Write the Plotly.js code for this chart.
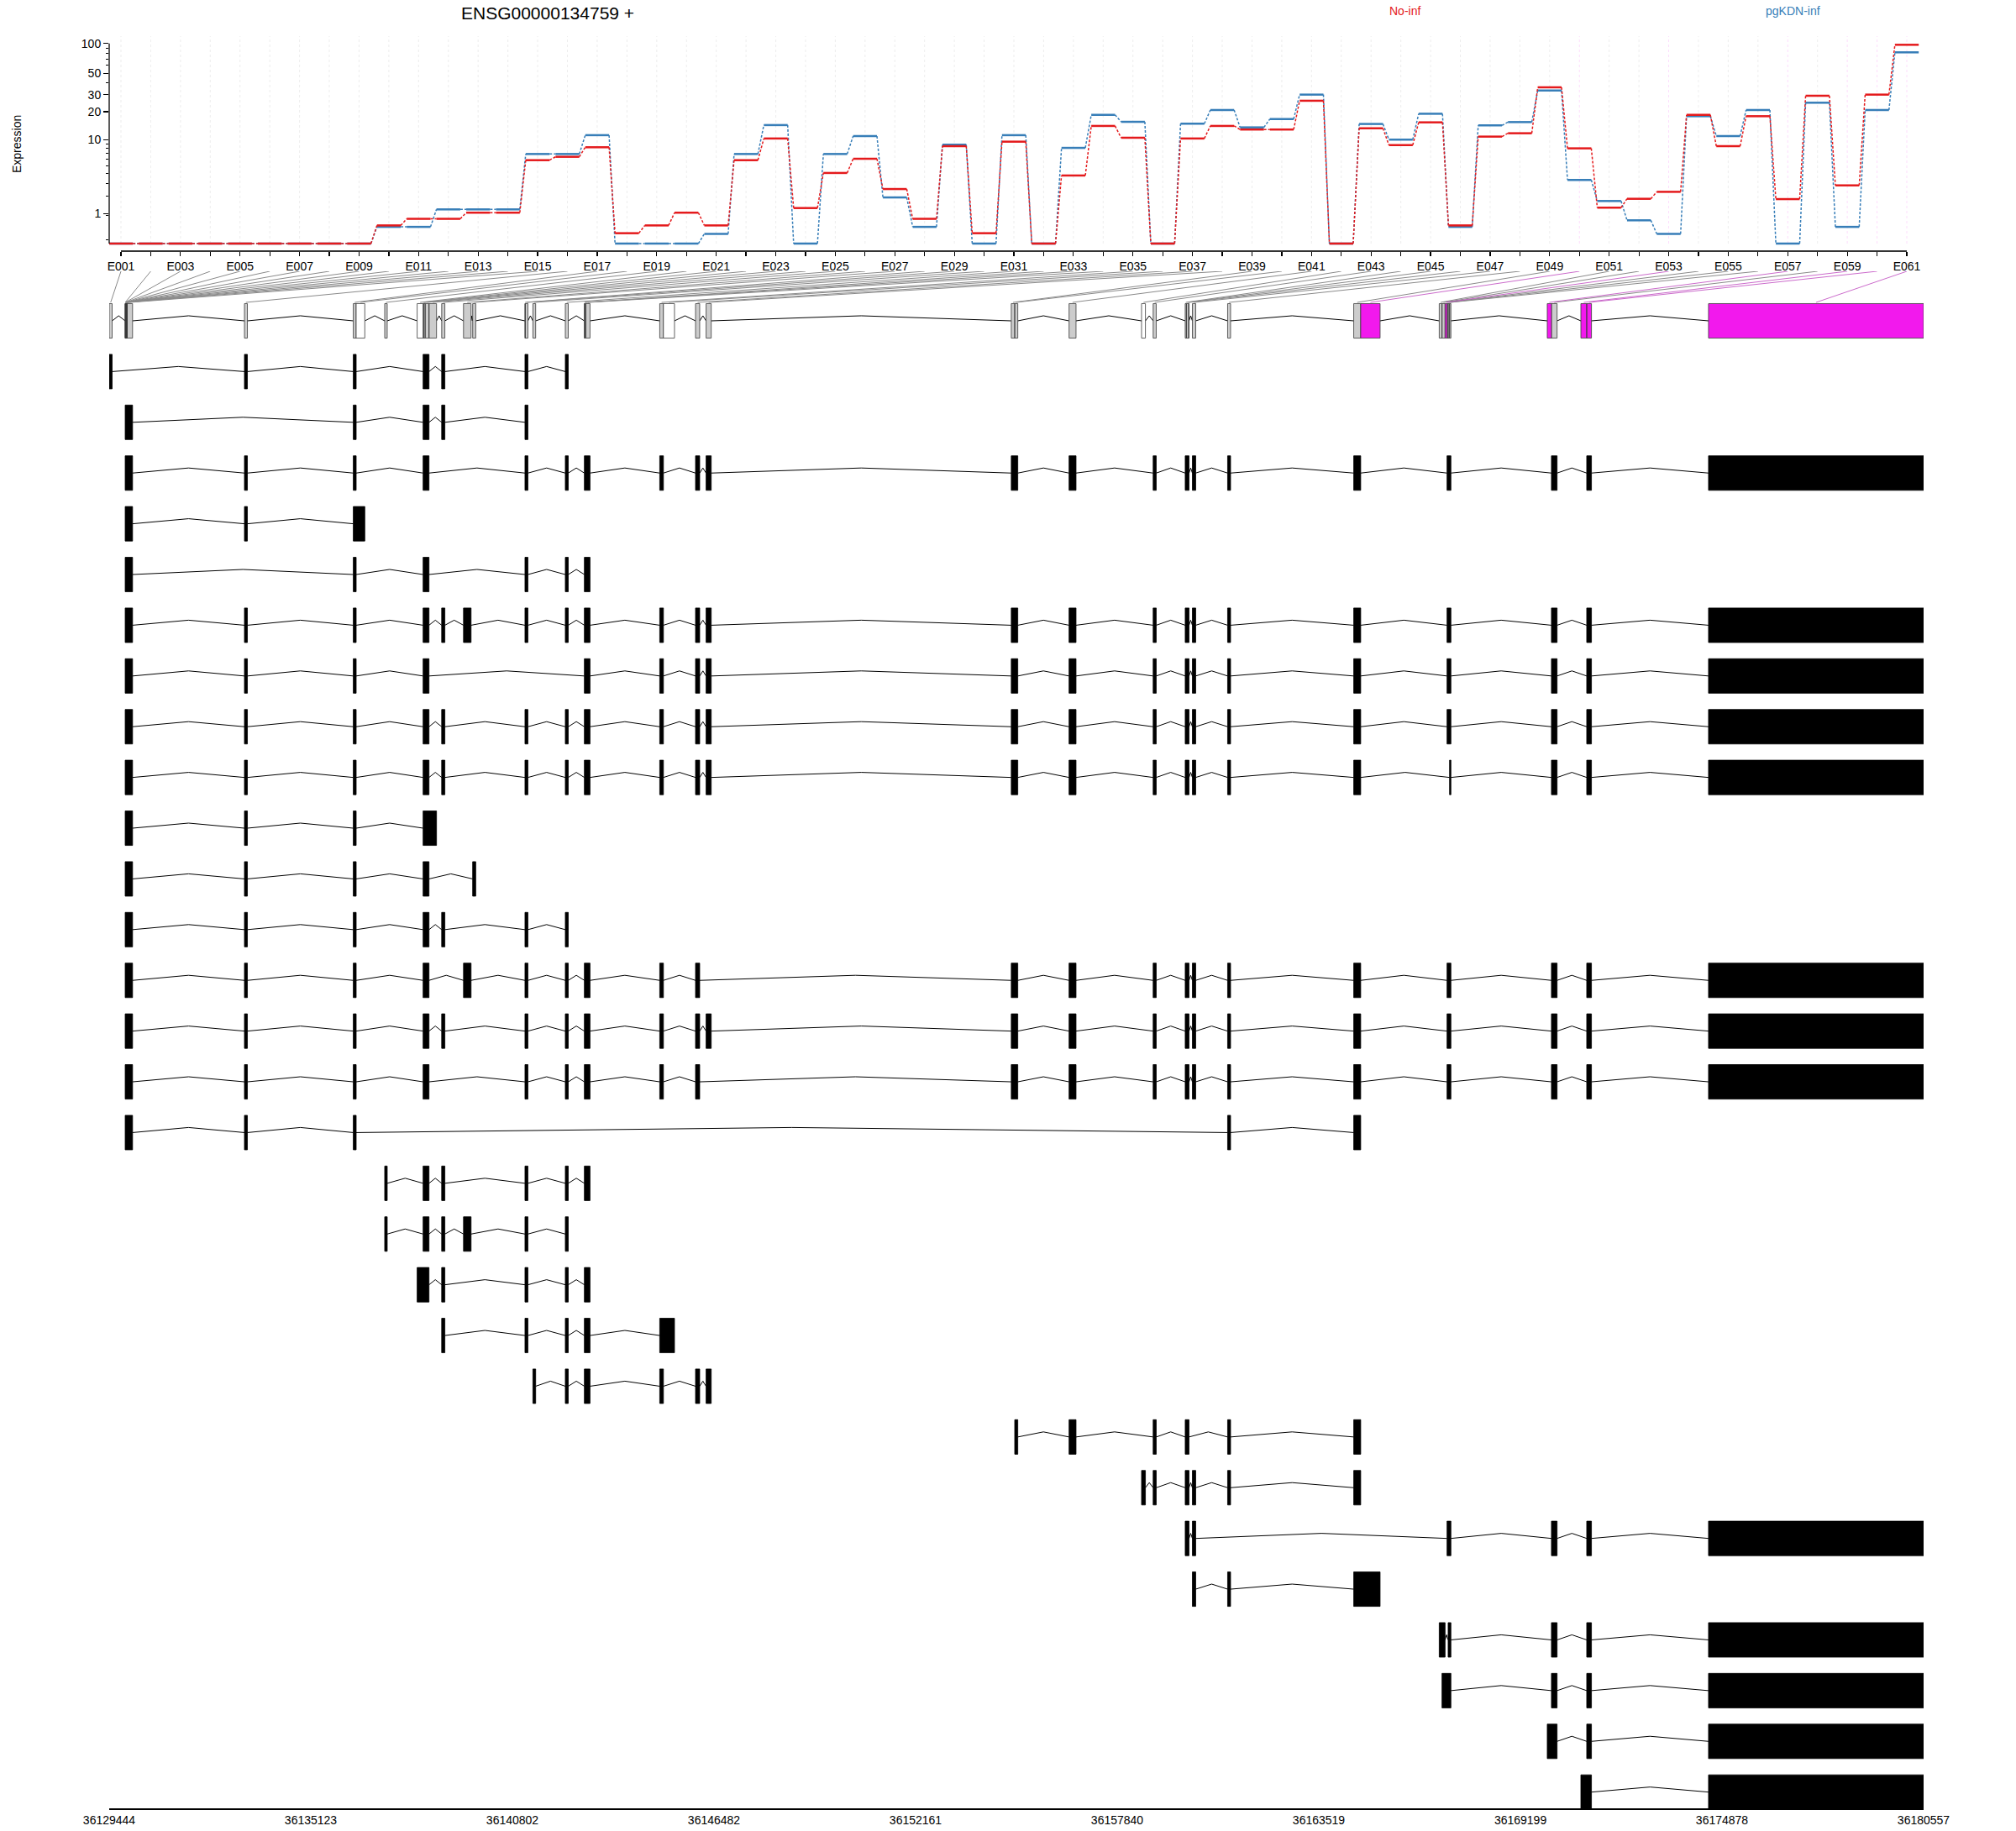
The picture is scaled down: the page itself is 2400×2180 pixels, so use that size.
<!DOCTYPE html>
<html><head><meta charset="utf-8">
<script src="https://cdn.plot.ly/plotly-3.0.1.min.js"></script>
<style>body{margin:0;background:#fff}</style>
</head><body>
<div id="chart" style="width:2400px;height:2180px"></div>
<script>
// ---------------- DATA ----------------
const exonLabels = ['E001','E002','E003','E004','E005','E006','E007','E008','E009','E010',
'E011','E012','E013','E014','E015','E016','E017','E018','E019','E020',
'E021','E022','E023','E024','E025','E026','E027','E028','E029','E030',
'E031','E032','E033','E034','E035','E036','E037','E038','E039','E040',
'E041','E042','E043','E044','E045','E046','E047','E048','E049','E050',
'E051','E052','E053','E054','E055','E056','E057','E058','E059','E060','E061'];

const noInf = [0,0,0,0,0,0,0,0,0,0.52,
0.77,0.77,1.04,1.04,5.85,6.41,8.23,0.27,0.52,1.04,
0.52,5.85,10.3,1.27,4.1,6.08,2.52,0.77,8.47,0.27,
9.5,0,3.81,14.1,10.5,0,10.3,14.1,12.9,12.9,
26,0,13.3,8.7,15.4,0.52,10.8,11.75,35.8,8.0,
1.29,1.81,2.30,18.5,8.47,17.9,1.79,29.3,2.83,30.1,97.2];

const pgKDNInf = [0,0,0,0,0,0,0,0,0,0.47,
0.47,1.2,1.2,1.2,6.9,6.9,11.2,0,0,0,
0.25,6.9,14.4,0,6.9,10.95,1.9,0.47,8.8,0,
11.2,0,8.1,18.5,15.6,0,14.9,20.8,13.6,16.7,
30.1,0,14.8,10.0,19.0,0.47,14.3,15.5,33.2,3.34,
1.67,0.71,0.25,17.9,10.95,20.8,0,24.8,0.47,20.8,81.5];

const yTickValues = [1,10,20,30,50,100];
const yMinorValues = [0.1,0.9,2,3,4,5,6,7,8,9,40,60,70,80,90];

// exonic bins (genomic coordinates, bp)
const binStart = [36129444,36129894,36129898,36129902,36129906,36129910,36129914,36129918,36129922,36129926,
36129930,36129934,36129938,36129942,36129946,36133254,36136320,36136401,36137205,36138119,
36138287,36138298,36138345,36138453,36138810,36139425,36139683,36141157,36141165,36141380,
36142293,36142830,36142838,36142870,36144953,36145057,36145961,36146259,36154856,36154953,
36156484,36158526,36158853,36159756,36159790,36159855,36159958,36160951,36164503,36164700,
36166912,36166990,36167077,36167132,36167163,36167203,36169955,36170073,36170902,36171067,36174498];
const binEnd = [36129527,36129898,36129902,36129906,36129910,36129914,36129918,36129922,36129926,36129930,
36129934,36129938,36129942,36129946,36130102,36133337,36136401,36136645,36137276,36138287,
36138298,36138345,36138453,36138665,36138900,36139638,36139770,36141165,36141240,36141458,
36142376,36142838,36142870,36142989,36145057,36145369,36146079,36146403,36154953,36155040,
36156680,36158635,36158940,36159790,36159855,36159863,36160052,36161034,36164700,36165246,
36166990,36167077,36167132,36167163,36167203,36167241,36170073,36170232,36171067,36171200,36180557];
// g = tested, w = not tested, m = significant
const binStatus = ['g','g','g','g','g','g','g','g','g','g',
'g','g','g','g','g','g','g','w','g','w',
'g','g','g','g','g','g','g','g','g','g',
'g','g','g','g','g','w','g','g','g','g',
'g','w','g','g','g','g','g','g','g','m',
'g','g','m','g','g','g','m','g','m','m','m'];

// transcript exons as ranges of bins [firstBin, lastBin] (1-based)
const A=[1,1],B=[2,15],C=[16,16],D=[17,17],DW=[17,18],G5=[19,19],EE=[21,23],EW=[21,24],E19=[20,23],
F=[25,25],G=[26,26],G2=[27,27],H=[28,29],H21=[30,30],I=[31,31],J=[32,34],K=[35,35],KW=[35,36],
L=[37,37],M=[38,38],N=[39,40],N22=[40,40],O=[41,41],P23=[42,42],P=[43,43],Q=[44,46],R=[47,47],
S=[48,48],T=[49,49],TW=[49,50],U=[54,56],UT=[56,56],U26a=[51,52],U26b=[55,56],U27=[52,56],
V=[58,58],V28=[57,58],W=[60,60],W29=[59,60],BIG=[61,61];

const transcripts = [
 [A,C,D,EE,F,H,I],
 [B,D,EE,F,H],
 [B,C,D,EE,H,I,J,K,L,M,N,O,P,Q,R,S,T,U,V,W,BIG],
 [B,C,DW],
 [B,D,EE,H,I,J],
 [B,C,D,EE,F,G,H,I,J,K,L,M,N,O,P,Q,R,S,T,U,V,W,BIG],
 [B,C,D,EE,J,K,L,M,N,O,P,Q,R,S,T,U,V,W,BIG],
 [B,C,D,EE,F,H,I,J,K,L,M,N,O,P,Q,R,S,T,U,V,W,BIG],
 [B,C,D,EE,F,H,I,J,K,L,M,N,O,P,Q,R,S,T,UT,V,W,BIG],
 [B,C,D,EW],
 [B,C,D,EE,G2],
 [B,C,D,EE,F,H,I],
 [B,C,D,EE,G,H,I,J,K,L,N,O,P,Q,R,S,T,U,V,W,BIG],
 [B,C,D,EE,F,H,I,J,K,L,M,N,O,P,Q,R,S,T,U,V,W,BIG],
 [B,C,D,EE,H,I,J,K,L,N,O,P,Q,R,S,T,U,V,W,BIG],
 [B,C,D,S,T],
 [G5,EE,F,H,I,J],
 [G5,EE,F,G,H,I],
 [E19,F,H,I,J],
 [F,H,I,J,KW],
 [H21,I,J,K,L,M],
 [N22,O,P,Q,S,T],
 [P23,P,Q,R,S,T],
 [Q,R,U,V,W,BIG],
 [R,S,TW],
 [U26a,U26b,V,W,BIG],
 [U27,V,W,BIG],
 [V28,W,BIG],
 [W29,BIG]
];

const genomeTicks = [36129444,36135123,36140802,36146482,36152161,36157840,36163519,36169199,36174878,36180557];

// ---------------- BUILD ----------------
const W_ = 2400, H_ = 2180;
const FONT = 'Liberation Sans, Arial, sans-serif';
const RED = '#E41A1C', BLUE = '#377EB8', MAG = '#F219ED';
const dom = [130/W_, 2290/W_];
const XR = [0.605, 61.564];
const GR = [genomeTicks[0], genomeTicks[genomeTicks.length-1]];
const t = v => Math.log10(v + 1);
const HW = 0.4;

function segs(vals){const x=[],y=[];vals.forEach((v,i)=>{const c=i+1;x.push(c-HW,c+HW,null);y.push(t(v),t(v),null);});return {x,y};}
function conns(vals){const x=[],y=[];for(let i=0;i<vals.length-1;i++){const c=i+1;x.push(c+HW,c+1-HW,null);y.push(t(vals[i]),t(vals[i+1]),null);}return {x,y};}

const traces = [];
const sb=segs(pgKDNInf), cb=conns(pgKDNInf), sr=segs(noInf), cr=conns(noInf);
traces.push({x:cb.x,y:cb.y,mode:'lines',line:{color:BLUE,width:1.5,dash:'3px,2px'},xaxis:'x',yaxis:'y',hoverinfo:'skip'});
traces.push({x:sb.x,y:sb.y,mode:'lines',line:{color:BLUE,width:2.5},xaxis:'x',yaxis:'y',hoverinfo:'skip'});
traces.push({x:cr.x,y:cr.y,mode:'lines',line:{color:RED,width:1.5,dash:'3px,2px'},xaxis:'x',yaxis:'y',hoverinfo:'skip'});
traces.push({x:sr.x,y:sr.y,mode:'lines',line:{color:RED,width:2.5},xaxis:'x',yaxis:'y',hoverinfo:'skip'});

// gene model / transcripts on x2/y2 (row k centred at y=-k)
const BH = 0.34, APEX = 0.1;
function addBox(arr, s, e, yc){arr.x.push(s,e,e,s,s,null);arr.y.push(yc-BH,yc-BH,yc+BH,yc+BH,yc-BH,null);}
function addIntron(arr, e, s, yc){arr.x.push(e,(e+s)/2,s,null);arr.y.push(yc,yc+APEX,yc,null);}

const gm = {g:{x:[],y:[]}, w:{x:[],y:[]}, m:{x:[],y:[]}};
const gmIntr = {x:[],y:[]};
for(let i=0;i<binStart.length;i++){
  addBox(gm[binStatus[i]], binStart[i], binEnd[i], 0);
  if(i<binStart.length-1 && binEnd[i] < binStart[i+1]) addIntron(gmIntr, binEnd[i], binStart[i+1], 0);
}
const txBox = {x:[],y:[]}, txIntr = {x:[],y:[]};
transcripts.forEach((tx,k)=>{
  const yc = -(k+1);
  const ex = tx.map(r=>[binStart[r[0]-1], binEnd[r[1]-1]]);
  ex.forEach((e,j)=>{
    addBox(txBox, e[0], e[1], yc);
    if(j<ex.length-1) addIntron(txIntr, e[1], ex[j+1][0], yc);
  });
});
// connectors from exon ticks (top axis) to bins (genomic axis)
const conG = {x:[],y:[]}, conM = {x:[],y:[]};
const Y_TOP = 0.977, Y_BOT = 0.364;
for(let i=0;i<binStart.length;i++){
  const gx = GR[0] + ((i+1) - XR[0])/(XR[1]-XR[0])*(GR[1]-GR[0]);
  const bx = (binStart[i]+binEnd[i])/2;
  const tgt = binStatus[i]==='m' ? conM : conG;
  tgt.x.push(gx, bx, null); tgt.y.push(Y_TOP, Y_BOT, null);
}
const ax2 = {xaxis:'x2', yaxis:'y2', hoverinfo:'skip'};
traces.push(Object.assign({x:conG.x,y:conG.y,mode:'lines',line:{color:'#8a8a8a',width:1}},ax2));
traces.push(Object.assign({x:conM.x,y:conM.y,mode:'lines',line:{color:'rgba(190,70,190,0.8)',width:1}},ax2));
traces.push(Object.assign({x:gmIntr.x,y:gmIntr.y,mode:'lines',line:{color:'#000',width:1}},ax2));
traces.push(Object.assign({x:gm.g.x,y:gm.g.y,mode:'lines',fill:'toself',fillcolor:'#cccccc',line:{color:'#3a3a3a',width:0.8}},ax2));
traces.push(Object.assign({x:gm.w.x,y:gm.w.y,mode:'lines',fill:'toself',fillcolor:'#ffffff',line:{color:'#3a3a3a',width:0.8}},ax2));
traces.push(Object.assign({x:gm.m.x,y:gm.m.y,mode:'lines',fill:'toself',fillcolor:MAG,line:{color:'#3a3a3a',width:0.8}},ax2));
traces.push(Object.assign({x:txIntr.x,y:txIntr.y,mode:'lines',line:{color:'#000',width:1}},ax2));
traces.push(Object.assign({x:txBox.x,y:txBox.y,mode:'lines',fill:'toself',fillcolor:'#000',line:{color:'#000',width:0.8}},ax2));

// shapes: faint grid, axis lines
const shapes = [];
for(let i=0;i<exonLabels.length;i++){
  shapes.push({type:'line',layer:'below',xref:'x',yref:'y domain',x0:i+1,x1:i+1,y0:0.035,y1:1,
    line:{color: binStatus[i]==='m' ? 'rgba(242,25,237,0.15)' : 'rgba(190,190,190,0.28)', width:1, dash:'dot'}});
}
shapes.push({type:'line',xref:'x domain',yref:'y',x0:0,x1:0,y0:0,y1:t(100),line:{color:'#000',width:1.3}});
shapes.push({type:'line',xref:'x',yref:'y domain',x0:1,x1:exonLabels.length,y0:0,y1:0,line:{color:'#333',width:2}});

const layout = {
  width:W_, height:H_, margin:{l:0,r:0,t:0,b:0}, showlegend:false,
  paper_bgcolor:'#fff', plot_bgcolor:'rgba(0,0,0,0)',
  font:{family:FONT, size:14, color:'#000'},
  xaxis:{domain:dom, range:XR, anchor:'y', tickmode:'array',
    tickvals:exonLabels.map((_,i)=>i+1), ticktext:exonLabels.map((l,i)=>i%2===0?l:''),
    ticks:'outside', ticklen:5, tickwidth:1.2, tickcolor:'#000', showline:false, showgrid:false, zeroline:false,
    tickfont:{family:FONT,size:14,color:'#000'}, tickangle:0},
  yaxis:{domain:[1-299/H_, 1-43/H_], range:[-0.0758, 2.079], anchor:'x', tickmode:'array',
    tickvals:yTickValues.map(t), ticktext:yTickValues.map(String),
    ticks:'outside', ticklen:6, tickwidth:1.2, tickcolor:'#000', showline:false, showgrid:false, zeroline:false,
    tickfont:{family:FONT,size:14,color:'#000'},
    minor:{tickmode:'array', tickvals:yMinorValues.map(t), ticks:'outside', ticklen:3, tickcolor:'#000', tickwidth:1, showgrid:false}},
  xaxis2:{domain:dom, range:GR, anchor:'y2', tickmode:'array', tickvals:genomeTicks, ticktext:genomeTicks.map(String),
    ticks:'', showline:true, linecolor:'#000', linewidth:2, showgrid:false, zeroline:false,
    tickfont:{family:FONT,size:14,color:'#000'}},
  yaxis2:{domain:[1-2153/H_, 1-323/H_], range:[-29.32, 0.977], anchor:'x2', visible:false, showgrid:false, zeroline:false},
  shapes:shapes,
  annotations:[
    {text:'ENSG00000134759 +', xref:'paper', yref:'paper', x:652/W_, y:1-15/H_, showarrow:false, xanchor:'center', yanchor:'middle', font:{family:FONT,size:21,color:'#000'}},
    {text:'No-inf', xref:'paper', yref:'paper', x:1672/W_, y:1-13/H_, showarrow:false, xanchor:'center', yanchor:'middle', font:{family:FONT,size:14,color:RED}},
    {text:'pgKDN-inf', xref:'paper', yref:'paper', x:2134/W_, y:1-13/H_, showarrow:false, xanchor:'center', yanchor:'middle', font:{family:FONT,size:14,color:BLUE}},
    {text:'Expression', xref:'paper', yref:'paper', x:20/W_, y:1-172/H_, showarrow:false, textangle:-90, xanchor:'center', yanchor:'middle', font:{family:FONT,size:14,color:'#000'}}
  ]
};
Plotly.newPlot('chart', traces, layout, {staticPlot:true, displayModeBar:false});
</script>
</body></html>
